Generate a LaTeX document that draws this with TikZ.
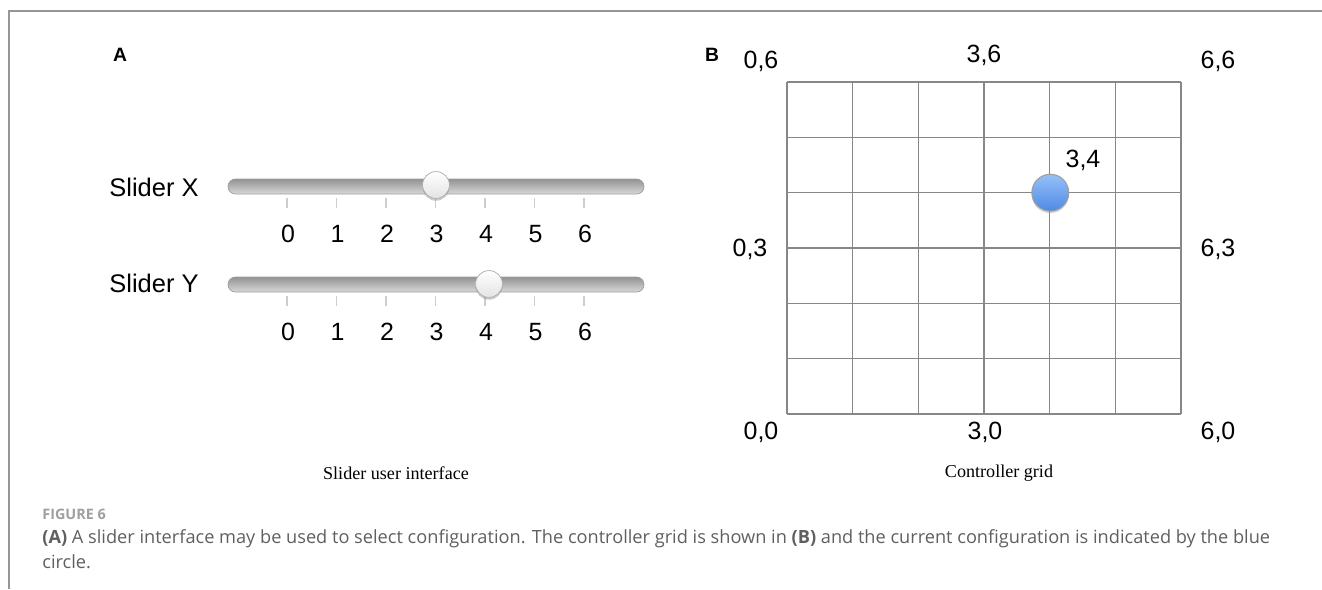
\documentclass[tikz,border=0pt]{standalone}
\usepackage{fontspec}
\setmainfont{Liberation Sans}
\newfontfamily\subface{Liberation Serif}
\newfontfamily\capface{Open Sans}
\usetikzlibrary{shadows}

\definecolor{gridgray}{RGB}{135,135,135}
\definecolor{framegray}{RGB}{150,150,150}
\definecolor{tickgray}{RGB}{205,205,205}
\definecolor{dottop}{RGB}{150,192,248}
\definecolor{dotbot}{RGB}{78,138,228}
\definecolor{captext}{RGB}{95,95,95}

\begin{document}
\begin{tikzpicture}[x=0.02cm, y=-0.02cm,
  panel/.style={font=\bfseries\fontsize{11}{13}\selectfont, inner sep=0pt},
  lab/.style={font=\fontsize{14.5}{16}\selectfont, inner sep=0pt},
  num/.style={font=\fontsize{14.2}{16}\selectfont, inner sep=0pt},
  sub/.style={font=\subface\fontsize{10.3}{12}\selectfont, inner sep=0pt},
  track/.style={draw=gray!75, rounded corners=4.2pt, top color=gray!85, bottom color=gray!30},
  knob/.style={circle, inner sep=0pt, minimum size=15.3pt, draw=gray!65, top color=white, bottom color=gray!22,
    drop shadow={opacity=0.4, shadow xshift=0pt, shadow yshift=-1.3pt}},
  tick/.style={draw=tickgray, line width=0.6pt},
  gridline/.style={draw=gridgray, line width=0.8pt},
  dot/.style={circle, inner sep=0pt, minimum size=21pt, draw=gray!75, line width=0.6pt, top color=dottop, bottom color=dotbot,
    drop shadow={opacity=0.3, shadow xshift=0pt, shadow yshift=-1.2pt}},
  frame/.style={draw=framegray, line width=1.1pt},
  capline/.style={anchor=base west, inner sep=0pt, text=captext, font=\capface\fontsize{10.35}{12}\selectfont}
]
\useasboundingbox (0,0) rectangle (1322,589);
\draw[frame] (1322,11) -- (9,11) -- (9,589);

% panel A: sliders
\node[panel] (pa) at (120,55) {A};
\node[lab] (slx) at (154,187) {Slider X};
\node[lab] (sly) at (154,283) {Slider Y};
\draw[track] (228,179) rectangle (644,194);
\draw[track] (228,277) rectangle (644,292);
\foreach \k in {0,...,6} {
  \draw[tick] ({287+49.5*\k},198) -- ++(0,10);
  \draw[tick] ({287+49.5*\k},296) -- ++(0,10);
  \node[num] (xn\k) at ({288+49.5*\k},234) {\k};
  \node[num] (yn\k) at ({288+49.5*\k},332) {\k};
}
\node[knob] (knobx) at (436,185) {};
\node[knob] (knoby) at (489,284) {};
\node[sub] (suba) at (396,473) {Slider user interface};

% panel B: controller grid
\node[panel] (pb) at (712,55) {B};
\foreach \k in {0,...,6} {
  \draw[gridline] ({787+65.67*\k},82) -- ({787+65.67*\k},414);
  \draw[gridline] (787,{82+55.33*\k}) -- (1181,{82+55.33*\k});
}
\node[dot] (cur) at (1050.3,192.7) {};
\node[num] (c34) at (1083,160) {3,4};
\node[num] (c06) at (761,61) {0,6};
\node[num] (c36) at (984,55) {3,6};
\node[num] (c66) at (1218,61) {6,6};
\node[num] (c03) at (750,249) {0,3};
\node[num] (c63) at (1218,249) {6,3};
\node[num] (c00) at (761,432) {0,0};
\node[num] (c30) at (985,432) {3,0};
\node[num] (c60) at (1218,432) {6,0};
\node[sub] (subb) at (999,473) {Controller grid};

% caption
\node[capline, font=\capface\bfseries\fontsize{8.2}{10}\selectfont, text=gray!75] (fig) at (42,519) {FIGURE 6};
\node[capline] (cap1) at (42,543)
  {\textbf{(A)} A slider interface may be used to select configuration. The controller grid is shown in \textbf{(B)} and the current configuration is indicated by the blue};
\node[capline] (cap2) at (42,568) {circle.};
\end{tikzpicture}
\end{document}
